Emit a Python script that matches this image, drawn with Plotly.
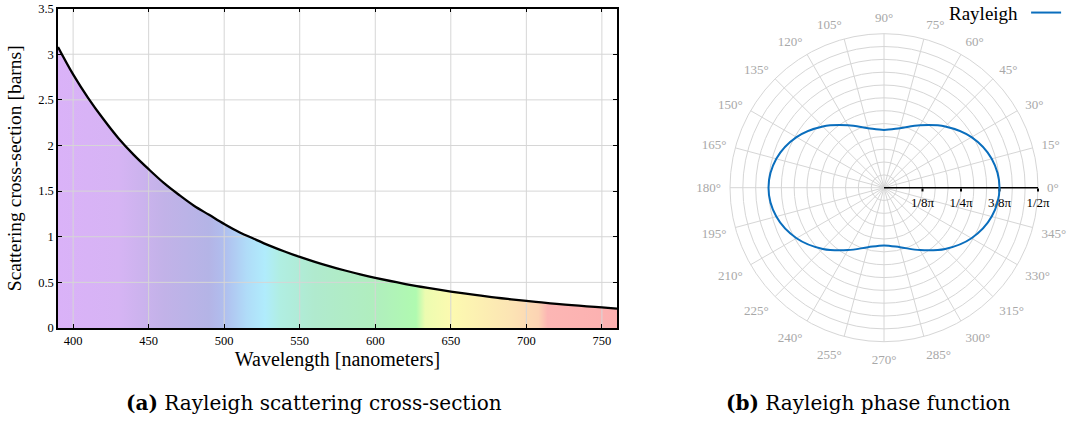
import plotly.graph_objects as go

# ---------------- data ----------------
wavelength_nm = [390, 400, 410, 420, 430, 440, 450, 460, 470, 480, 490, 500, 510, 520, 530,
                 540, 550, 560, 570, 580, 590, 600, 610, 620, 630, 640, 650, 660, 670, 680,
                 690, 700, 710, 720, 730, 740, 750, 760]
cross_section_barns = [3.08, 2.78, 2.52, 2.29, 2.08, 1.90, 1.74, 1.59, 1.46, 1.34, 1.24, 1.14,
                       1.05, 0.975, 0.903, 0.838, 0.779, 0.725, 0.675, 0.630, 0.588, 0.550,
                       0.515, 0.482, 0.452, 0.425, 0.399, 0.376, 0.354, 0.333, 0.314, 0.297,
                       0.280, 0.265, 0.251, 0.238, 0.225, 0.213]

x_ticks = [400, 450, 500, 550, 600, 650, 700, 750]
y_ticks = [0, 0.5, 1, 1.5, 2, 2.5, 3, 3.5]
y_tick_labels = ["0", "0.5", "1", "1.5", "2", "2.5", "3", "3.5"]

# spectrum colour stops (wavelength nm, pastel rgb)
spectrum_nm = [390, 430, 460, 490, 500, 515, 527, 537, 560, 600, 627, 633, 650, 690, 708, 714, 760]
spectrum_rgb = [(218, 178, 248), (214, 180, 244), (194, 178, 232), (180, 180, 230), (176, 190, 238),
                (176, 220, 248), (176, 236, 252), (176, 238, 226), (176, 234, 206), (176, 238, 190),
                (176, 250, 176), (236, 252, 176), (252, 250, 176), (252, 228, 180), (252, 212, 180),
                (252, 182, 180), (252, 176, 176)]

# Rayleigh phase function (radius in units of 1/pi), angles in degrees
phase_angle_deg = [0, 15, 30, 45, 60, 75, 90, 105, 120, 135, 150, 165, 180,
                   195, 210, 225, 240, 255, 270, 285, 300, 315, 330, 345, 360]
phase_value = [0.375, 0.362, 0.328, 0.281, 0.234, 0.200, 0.1875, 0.200, 0.234, 0.281, 0.328, 0.362, 0.375,
               0.362, 0.328, 0.281, 0.234, 0.200, 0.1875, 0.200, 0.234, 0.281, 0.328, 0.362, 0.375]

angular_ticks = list(range(0, 360, 15))
radial_ticks = [0.125, 0.25, 0.375, 0.5]
radial_tick_labels = ["1/8π", "1/4π", "3/8π", "1/2π"]
radial_grid = [i / 24 for i in range(1, 13)]

# ---------------- styling ----------------
SERIF = "Liberation Serif, Times New Roman, serif"
CAPTION_FONT = "DejaVu Serif, Liberation Serif, serif"
W, H = 1068, 421
GRID = "#d6d6d6"


def px(sx):   # screen x pixel -> paper fraction
    return sx / W


def py(sy):   # screen y pixel -> paper fraction
    return 1 - sy / H


x_lo, x_hi = wavelength_nm[0], wavelength_nm[-1]
y_lo, y_hi = y_ticks[0], y_ticks[-1]
colorscale = [[(w - x_lo) / (x_hi - x_lo), "rgb(%d,%d,%d)" % c] for w, c in zip(spectrum_nm, spectrum_rgb)]

fig = go.Figure()

# gradient fill under the curve
fig.add_trace(go.Scatter(
    x=wavelength_nm, y=cross_section_barns, mode="lines", line=dict(width=0, shape="spline"),
    fill="tozeroy", fillgradient=dict(type="horizontal", colorscale=colorscale),
    showlegend=False, hoverinfo="skip", xaxis="x", yaxis="y"))

# grid lines drawn above the fill
gx, gy = [], []
for t in x_ticks:
    gx += [t, t, None]
    gy += [y_lo, y_hi, None]
for t in y_ticks[1:-1]:
    gx += [x_lo, x_hi, None]
    gy += [t, t, None]
fig.add_trace(go.Scatter(x=gx, y=gy, mode="lines", line=dict(color=GRID, width=1),
                         showlegend=False, hoverinfo="skip", xaxis="x", yaxis="y"))

# black curve
fig.add_trace(go.Scatter(
    x=wavelength_nm, y=cross_section_barns, mode="lines",
    line=dict(color="black", width=2.3, shape="spline"), showlegend=False, xaxis="x", yaxis="y"))

# invisible trace so that the grid-only polar subplot is drawn
fig.add_trace(go.Scatterpolar(r=[0], theta=[0], mode="lines", line=dict(width=0),
                              subplot="polar", showlegend=False, hoverinfo="skip"))

# polar phase function
fig.add_trace(go.Scatterpolar(
    r=phase_value, theta=phase_angle_deg, mode="lines",
    line=dict(color="#0a6ebd", width=2, shape="spline"),
    name=" ", subplot="polar2", showlegend=True))

cx, cy, R = 884, 187.7, 154
pdom_x = [px(cx - R), px(cx + R)]
pdom_y = [py(cy + R), py(cy - R)]

angular_common = dict(rotation=0, direction="counterclockwise")
fig.update_layout(
    width=W, height=H, margin=dict(l=0, r=0, t=0, b=0, autoexpand=False),
    paper_bgcolor="white", plot_bgcolor="white",
    font=dict(family=SERIF, color="black", size=12),
    xaxis=dict(domain=[px(58), px(617)], range=[x_lo, x_hi], tickvals=x_ticks, ticks="inside", ticklen=4,
               tickcolor="black", showline=True, linecolor="black", linewidth=1.5, mirror="ticks",
               showgrid=False, zeroline=False, tickfont=dict(size=12.5), automargin=False,
               title=dict(text="Wavelength [nanometers]", font=dict(size=20), standoff=0)),
    yaxis=dict(domain=[py(328), py(8.6)], range=[y_lo, y_hi], tickvals=y_ticks, ticktext=y_tick_labels,
               ticks="inside", ticklen=4, tickcolor="black", showline=True, linecolor="black",
               linewidth=1.5, mirror="ticks", showgrid=False, zeroline=False, tickfont=dict(size=12.5),
               automargin=False, ticklabeloverflow="allow",
               title=dict(text="Scattering cross-section [barns]", font=dict(size=19.5), standoff=11)),
    polar=dict(
        domain=dict(x=pdom_x, y=pdom_y), bgcolor="white",
        angularaxis=dict(tickvals=angular_ticks,
                         ticktext=["%d°" % a for a in angular_ticks], gridcolor=GRID, gridwidth=1,
                         showline=True, linecolor=GRID, linewidth=1, ticks="outside", ticklen=6,
                         tickcolor="rgba(0,0,0,0)", tickfont=dict(size=13, color="#a8a8a8"),
                         **angular_common),
        radialaxis=dict(range=[0, 0.5], tickvals=radial_grid, showticklabels=False, ticks="",
                        showline=False, gridcolor=GRID, gridwidth=1)),
    polar2=dict(
        domain=dict(x=pdom_x, y=pdom_y), bgcolor="rgba(0,0,0,0)",
        angularaxis=dict(visible=False, **angular_common),
        radialaxis=dict(range=[0, 0.5], angle=0, tickangle=0, side="clockwise",
                        tickvals=radial_ticks, ticktext=radial_tick_labels, ticks="outside",
                        ticklen=3, tickwidth=1.5, tickcolor="black", showline=True, linecolor="black",
                        linewidth=1.5, showgrid=False, layer="below traces",
                        tickfont=dict(size=13, color="black"))),
    legend=dict(orientation="h", x=px(1076), xanchor="right", y=py(13), yanchor="middle",
                bgcolor="rgba(0,0,0,0)", font=dict(size=17),
                title=dict(text="Rayleigh", side="left", font=dict(size=19))),
    annotations=[
        dict(text="<b>(a)</b> Rayleigh scattering cross-section", x=px(314), y=py(403),
             xref="paper", yref="paper", xanchor="center", yanchor="middle", showarrow=False,
             font=dict(size=20, family=CAPTION_FONT)),
        dict(text="<b>(b)</b> Rayleigh phase function", x=px(868), y=py(403),
             xref="paper", yref="paper", xanchor="center", yanchor="middle", showarrow=False,
             font=dict(size=20, family=CAPTION_FONT)),
    ],
)

# remove the browser's default 8px page margin so the figure sits at the window's corner
fig.write_html("out.html", config={"displayModeBar": False},
               post_script="document.body.style.margin='0px';")
